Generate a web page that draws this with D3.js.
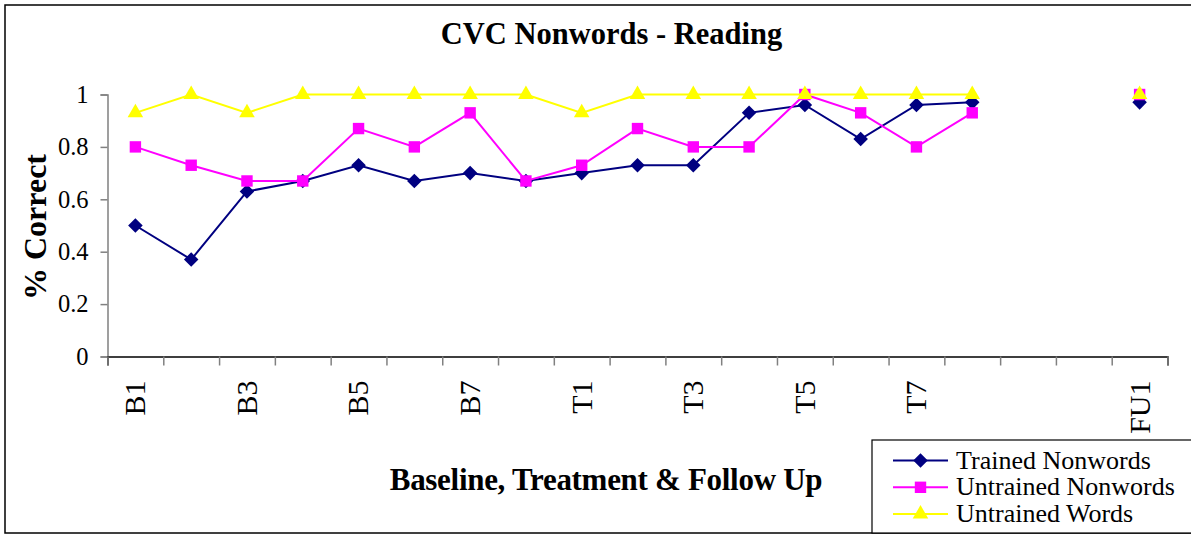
<!DOCTYPE html>
<html><head><meta charset="utf-8">
<script src="https://cdn.jsdelivr.net/npm/d3@7"></script>
<style>
html,body{margin:0;padding:0;background:#fff;}
svg{display:block;font-family:"Liberation Serif","Times New Roman",serif;}
</style></head>
<body><svg id="c" width="1191" height="536"></svg>
<script>
const categories = ["B1","B2","B3","B4","B5","B6","B7","B8","T1","T2","T3","T4","T5","T6","T7","T8","gap1","gap2","FU1"];
const tickLabels = ["B1","","B3","","B5","","B7","","T1","","T3","","T5","","T7","","","","FU1"];
const trainedNonwords   = [0.50,0.37,0.63,0.67,0.73,0.67,0.70,0.67,0.70,0.73,0.73,0.93,0.96,0.83,0.96,0.97,null,null,0.97];
const untrainedNonwords = [0.80,0.73,0.67,0.67,0.87,0.80,0.93,0.67,0.73,0.87,0.80,0.80,1.00,0.93,0.80,0.93,null,null,1.00];
const untrainedWords    = [0.93,1.00,0.93,1.00,1.00,1.00,1.00,1.00,0.93,1.00,1.00,1.00,1.00,1.00,1.00,1.00,null,null,1.00];
const yTicks = [0,0.2,0.4,0.6,0.8,1];
const seriesNames = ["Trained Nonwords","Untrained Nonwords","Untrained Words"];

const series = [
  {name: seriesNames[0], values: trainedNonwords,   color:"#000080", sym:d3.symbolDiamond2, size:135},
  {name: seriesNames[1], values: untrainedNonwords, color:"#FF00FF", sym:d3.symbolSquare, size:130},
  {name: seriesNames[2], values: untrainedWords,    color:"#FFFF00", sym:d3.symbolTriangle, size:105}
];

const svg = d3.select("#c");
const L = 107.5, R = 1167.5, T = 94.5, B = 356.5;

// outer chart border
svg.append("rect").attr("x",5).attr("y",5).attr("width",1200).attr("height",528)
  .attr("fill","#fff").attr("stroke","#000").attr("stroke-width",1.5);

const x = d3.scaleBand().domain(categories).range([L,R]).padding(0);
const xi = d3.scaleLinear().domain([0,categories.length]).range([L,R]);
const y = d3.scaleLinear().domain([0,1]).range([B,T]);

// y axis
const ya = svg.append("g").attr("transform",`translate(${L},0)`)
  .call(d3.axisLeft(y).tickValues(yTicks).tickSize(7).tickPadding(12).tickFormat(d3.format("")));
ya.select(".domain").attr("stroke","#808080").attr("stroke-width",1.5);
ya.selectAll(".tick line").attr("stroke","#808080").attr("stroke-width",1.5);
ya.selectAll(".tick text").attr("font-size",24.5).attr("font-family","Liberation Serif").attr("fill","#000");

// x axis boundary ticks
const xa = svg.append("g").attr("transform",`translate(0,${B})`)
  .call(d3.axisBottom(xi).tickValues(d3.range(0,categories.length+1)).tickSize(9).tickFormat(""));
xa.select(".domain").attr("stroke","#000").attr("stroke-width",1.5);
xa.selectAll(".tick line").attr("stroke","#808080").attr("stroke-width",1.5);

// x axis labels
const xl = svg.append("g").attr("transform",`translate(0,${B})`)
  .call(d3.axisBottom(x).tickSize(0).tickFormat((d,i)=>tickLabels[i]));
xl.select(".domain").remove();
xl.selectAll(".tick text")
  .attr("font-size",30).attr("font-family","Liberation Serif").attr("fill","#000")
  .attr("transform","rotate(-90)").attr("text-anchor","end")
  .attr("x",-24).attr("y",0).attr("dy","0.33em");

// lines & markers
series.forEach(s=>{
  const line = d3.line().defined(d=>d!=null)
    .x((d,i)=>x(categories[i])+x.bandwidth()/2).y(d=>y(d));
  svg.append("path").datum(s.values).attr("d",line)
    .attr("fill","none").attr("stroke",s.color).attr("stroke-width",2);
  svg.append("g").selectAll("path").data(s.values.map((v,i)=>({v,i})).filter(d=>d.v!=null))
    .join("path")
    .attr("d",d3.symbol().type(s.sym).size(s.size))
    .attr("transform",d=>`translate(${x(categories[d.i])+x.bandwidth()/2},${y(d.v)})`)
    .attr("fill",s.color);
});

// title
svg.append("text").attr("x",611.5).attr("y",44).attr("text-anchor","middle")
  .attr("font-size",30.5).attr("font-weight","bold").text("CVC Nonwords - Reading");
// y title
svg.append("text").attr("transform","translate(46,227) rotate(-90)").attr("text-anchor","middle")
  .attr("font-size",32).attr("font-weight","bold").text("% Correct");
// x title
svg.append("text").attr("x",606).attr("y",490).attr("text-anchor","middle")
  .attr("font-size",31).attr("font-weight","bold").attr("letter-spacing",-0.3)
  .text("Baseline, Treatment & Follow Up");

// legend
const lg = svg.append("g");
lg.append("rect").attr("x",872).attr("y",440).attr("width",330).attr("height",93)
  .attr("fill","#fff").attr("stroke","#000").attr("stroke-width",1.2);
series.forEach((s,k)=>{
  const ly = 460.5 + k*26.8;
  lg.append("line").attr("x1",893).attr("x2",948).attr("y1",ly).attr("y2",ly)
    .attr("stroke",s.color).attr("stroke-width",2);
  lg.append("path").attr("d",d3.symbol().type(s.sym).size(s.size))
    .attr("transform",`translate(920.5,${ly})`).attr("fill",s.color);
  lg.append("text").attr("x",956).attr("y",ly+8)
    .attr("font-size",26).text(s.name);
});
</script></body></html>
